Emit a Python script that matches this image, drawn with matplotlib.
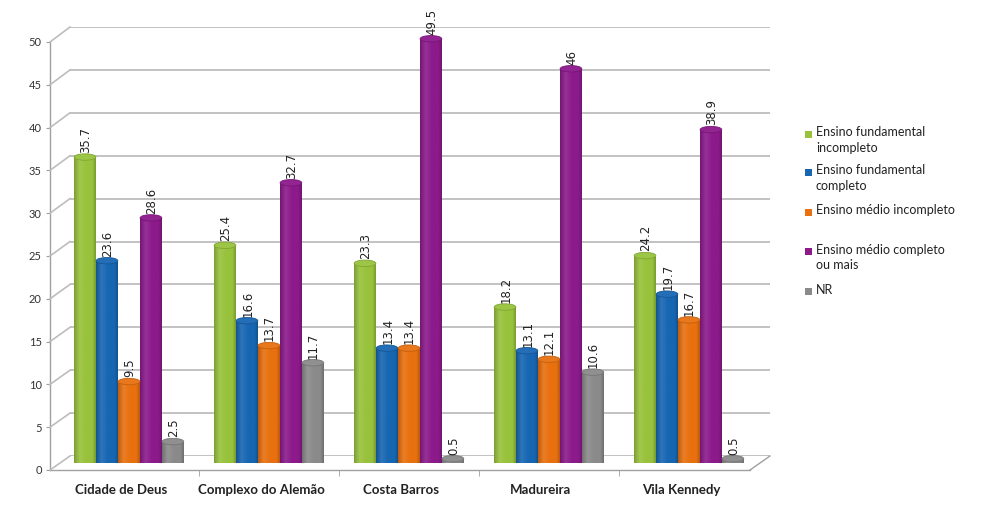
import numpy as np
import matplotlib
matplotlib.use("Agg")
import matplotlib.pyplot as plt
from matplotlib.patches import Ellipse, Rectangle
from matplotlib.lines import Line2D
from matplotlib.colors import LinearSegmentedColormap, to_rgb
import matplotlib.transforms as mtransforms

plt.rcParams['font.family'] = ['Lato', 'DejaVu Sans']

categories = ["Cidade de Deus", "Complexo do Alemão", "Costa Barros", "Madureira", "Vila Kennedy"]
series_names = ["Ensino fundamental\nincompleto", "Ensino fundamental\ncompleto",
                "Ensino médio incompleto", "Ensino médio completo\nou mais", "NR"]
fund_incompleto = [35.7, 25.4, 23.3, 18.2, 24.2]
fund_completo = [23.6, 16.6, 13.4, 13.1, 19.7]
medio_incompleto = [9.5, 13.7, 13.4, 12.1, 16.7]
medio_completo = [28.6, 32.7, 49.5, 46, 38.9]
nao_respondeu = [2.5, 11.7, 0.5, 10.6, 0.5]
y_ticks = [0, 5, 10, 15, 20, 25, 30, 35, 40, 45, 50]

series = [fund_incompleto, fund_completo, medio_incompleto, medio_completo, nao_respondeu]
colors = ['#98c23c', '#1766b2', '#e8700f', '#8c1a8b', '#8a8a8a']

W, H = 982, 516
fig = plt.figure(figsize=(W / 100, H / 100), dpi=100)


def px_axes(l, r, top, bottom):
    return fig.add_axes([l / W, (H - bottom) / H, (r - l) / W, (bottom - top) / H])


XLIM = (-0.564, 4.436)
grid_col = '#bdbdbd'

# back wall with gridlines
back = px_axes(70, 770, 27, 456)
back.set_xlim(0, 1)
back.set_ylim(0, 50)
back.axis('off')
back.hlines(y_ticks, 0, 1, color=grid_col, lw=1.3)

# front axes with ticks
front = px_axes(50, 750, 42, 470)
front.set_facecolor('none')
front.set_xlim(*XLIM)
front.set_ylim(0, 50)
for s in ['top', 'right']:
    front.spines[s].set_visible(False)
for s in ['left', 'bottom']:
    front.spines[s].set_color('#a0a0a0')
    front.spines[s].set_linewidth(1.0)
front.set_yticks(y_ticks)
front.set_yticklabels([str(t) for t in y_ticks], fontsize=8, color='#333333')
front.tick_params(axis='y', length=3, color='#a0a0a0', pad=3)
x = np.arange(len(categories))
front.set_xticks(x)
front.set_xticklabels(categories, fontsize=9.5, fontweight='bold', color='#222222')
front.set_xticks(x[:-1] + 0.5, minor=True)
front.tick_params(axis='x', which='major', length=0, pad=10)
front.tick_params(axis='x', which='minor', length=4, color='#a0a0a0')
for lab in front.get_xticklabels():
    lab.set_transform(lab.get_transform() + mtransforms.ScaledTranslation(-8 / 100, 0, fig.dpi_scale_trans))

# diagonal connectors (3D depth)
inv = fig.transFigure.inverted()
for v in y_ticks:
    p0 = inv.transform(front.transData.transform((XLIM[0], v)))
    p1 = inv.transform(back.transData.transform((0, v)))
    fig.add_artist(Line2D([p0[0], p1[0]], [p0[1], p1[1]], color=grid_col, lw=1.2, transform=fig.transFigure))
p0 = inv.transform(front.transData.transform((XLIM[1], 0)))
p1 = inv.transform(back.transData.transform((1, 0)))
fig.add_artist(Line2D([p0[0], p1[0]], [p0[1], p1[1]], color='#a0a0a0', lw=1.0, transform=fig.transFigure))

# bars
bax = px_axes(50, 750, 34.5, 463)
bax.set_facecolor('none')
bax.axis('off')
bw = 0.155
step = 0.157
eh = 0.75


def shade(c, f):
    r = np.array(to_rgb(c))
    if f < 1:
        return tuple(r * f)
    return tuple(r + (1 - r) * (f - 1))


for i, (vals, col) in enumerate(zip(series, colors)):
    pos = x + (i - 2) * step
    bars = bax.bar(pos, vals, width=bw, color=col, zorder=2, linewidth=0)
    cmap = LinearSegmentedColormap.from_list(
        'c%d' % i, [(0, shade(col, 0.82)), (0.25, shade(col, 1.1)), (0.55, col), (0.85, col), (1, shade(col, 0.8))])
    for b, v in zip(bars, vals):
        x0, y0, w, h = b.get_x(), b.get_y(), b.get_width(), b.get_height()
        cx = x0 + w / 2
        bax.add_patch(Ellipse((cx, 0), w, eh, facecolor=shade(col, 0.85), edgecolor='none', zorder=1.9))
        im = bax.imshow(np.linspace(0, 1, 64).reshape(1, -1), extent=[x0, x0 + w, y0, y0 + h],
                        aspect='auto', cmap=cmap, zorder=2.1, interpolation='bilinear')
        im.set_clip_path(b)
        bax.add_patch(Ellipse((cx, h), w, eh, facecolor=shade(col, 1.05),
                              edgecolor=shade(col, 0.85), lw=0.6, zorder=3))
        bax.annotate(f"{v:g}", (cx, v), xytext=(0.5, 3), textcoords='offset points',
                     rotation=90, ha='center', va='bottom', fontsize=8.5,
                     family='DejaVu Sans', color='#222222', zorder=4)
bax.set_xlim(*XLIM)
bax.set_ylim(0, 50)

# legend
legend_y = [134, 172, 212, 251, 291]
for name, col, yc in zip(series_names, colors, legend_y):
    fig.add_artist(Rectangle(((805) / W, (H - yc - 3.5) / H), 7 / W, 7 / H,
                             facecolor=col, edgecolor='none', transform=fig.transFigure))
    fig.text(816 / W, (H - yc + 7.5) / H, name, fontsize=9, va='top', ha='left',
             color='#222222', linespacing=1.35)

fig.savefig('out.png', dpi=100)
